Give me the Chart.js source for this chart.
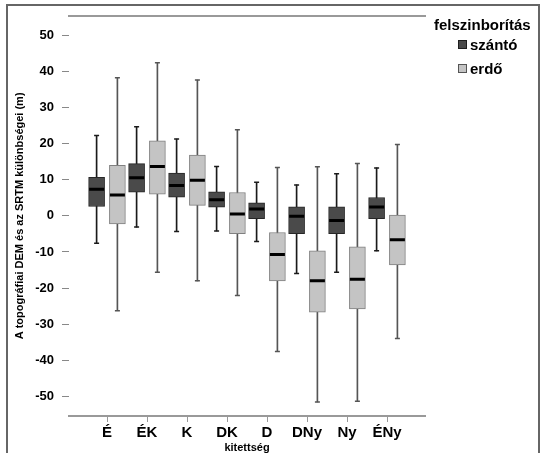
<!DOCTYPE html>
<html>
<head>
<meta charset="utf-8">
<script src="https://cdn.jsdelivr.net/npm/chart.js@4.4.1/dist/chart.umd.min.js"></script>
<style>
  html, body { margin: 0; padding: 0; background: #fff; }
  #wrap { position: relative; width: 545px; height: 453px; overflow: hidden; font-family: "Liberation Sans", Arial, sans-serif; }
  #frame { position: absolute; left: 6px; top: 4px; width: 530px; height: 470px; border: 2px solid #666; border-bottom: none; pointer-events: none; }
  #legend { position: absolute; left: 434px; top: 15px; font-weight: bold; color: #000; }
  #legend .title { font-size: 15px; line-height: 20px; }
  #legend .item { position: absolute; left: 24px; font-size: 15px; line-height: 18px; white-space: nowrap; }
  #legend .sw { display: inline-block; width: 7px; height: 7px; margin-right: 3px; vertical-align: 1px; }
</style>
</head>
<body>
<div id="wrap">
  <canvas id="chart" width="545" height="453"></canvas>
  <div id="frame"></div>
  <div id="legend">
    <div class="title">felszinborítás</div>
    <div class="item" style="top:21px"><span class="sw" style="background:#4a4a4a;border:1px solid #1e1e1e"></span>szántó</div>
    <div class="item" style="top:45px"><span class="sw" style="background:#c4c4c4;border:1px solid #555"></span>erdő</div>
  </div>
</div>
<script>
const categories = ['É', 'ÉK', 'K', 'DK', 'D', 'DNy', 'Ny', 'ÉNy'];
const yTicks = [-50, -40, -30, -20, -10, 0, 10, 20, 30, 40, 50];

// szántó (dark boxes)
const szantoMin    = [-7.6, -3.1, -4.3, -4.2, -7.1, -16.0, -15.6, -9.7];
const szantoQ1     = [2.6, 6.6, 5.2, 2.4, -0.8, -4.9, -4.9, -0.8];
const szantoMedian = [7.4, 10.6, 8.4, 4.5, 1.9, -0.1, -1.3, 2.5];
const szantoQ3     = [10.7, 14.5, 11.9, 6.7, 3.6, 2.5, 2.5, 5.1];
const szantoMax    = [22.3, 24.7, 21.3, 13.7, 9.3, 8.6, 11.7, 13.3];

// erdő (light boxes)
const erdoMin    = [-26.3, -15.6, -18.0, -22.1, -37.6, -51.6, -51.4, -34.0];
const erdoQ1     = [-2.2, 6.0, 2.9, -4.9, -18.0, -26.7, -25.8, -13.6];
const erdoMedian = [5.8, 13.7, 9.9, 0.5, -10.7, -18.0, -17.6, -6.6];
const erdoQ3     = [14.0, 20.8, 16.9, 6.5, -4.6, -9.7, -8.6, 0.2];
const erdoMax    = [38.3, 42.5, 37.7, 23.9, 13.4, 13.6, 14.5, 19.8];

const SHIFT = 0.26; // half distance between the two boxes of a category

function ranges(lo, hi, dx) {
  return categories.map((_, i) => ({ x: i + dx, y: [lo[i], hi[i]] }));
}
function points(vals, dx) {
  return categories.map((_, i) => ({ x: i + dx, y: vals[i] }));
}

function boxDatasets(name, mn, q1, med, q3, mx, dx, fill, edge, whisk) {
  return [
    { type: 'bar', label: name + ' whisker', data: ranges(mn, mx, dx), backgroundColor: whisk,
      barThickness: 1, maxBarThickness: 1, borderWidth: 0, grouped: false, order: 3 },
    { type: 'bar', label: name, data: ranges(q1, q3, dx), backgroundColor: fill, borderColor: edge,
      borderWidth: 1, borderSkipped: false, barThickness: 16, maxBarThickness: 16, grouped: false, order: 2 },
    { type: 'scatter', label: name + ' median', data: points(med, dx), pointStyle: 'line',
      pointRadius: 7.5, pointBorderWidth: 3, pointBorderColor: '#000', order: 1 },
    { type: 'scatter', label: name + ' caps', data: points(mn, dx).concat(points(mx, dx)), pointStyle: 'line',
      pointRadius: 2.5, pointBorderWidth: 1.5, pointBorderColor: whisk, order: 1 }
  ];
}

Chart.defaults.font.family = '"Liberation Sans", Arial, sans-serif';
Chart.defaults.color = '#000';

new Chart(document.getElementById('chart'), {
  type: 'bar',
  data: {
    datasets: [
      ...boxDatasets('szántó', szantoMin, szantoQ1, szantoMedian, szantoQ3, szantoMax, -SHIFT, '#4a4a4a', '#262626', '#1a1a1a'),
      ...boxDatasets('erdő', erdoMin, erdoQ1, erdoMedian, erdoQ3, erdoMax, SHIFT, '#c4c4c4', '#808080', '#555555')
    ]
  },
  options: {
    responsive: false,
    animation: false,
    events: [],
    layout: { padding: { top: 11, right: 120, bottom: 0, left: 0 } },
    plugins: { legend: { display: false }, tooltip: { enabled: false } },
    scales: {
      x: {
        type: 'linear',
        offset: false,
        min: -0.95,
        max: 7.95,
        afterBuildTicks: s => { s.ticks = categories.map((_, i) => ({ value: i })); },
        afterFit: s => { s.height = 37; },
        ticks: {
          callback: v => categories[v],
          autoSkip: false, maxRotation: 0, padding: 2,
          font: { size: 15, weight: 'bold' }, color: '#000'
        },
        grid: { offset: false, drawOnChartArea: false, tickLength: 6, color: '#999' },
        border: { color: '#999', width: 2 },
        title: { display: true, text: 'kitettség', font: { size: 11, weight: 'bold' }, padding: { top: 0, bottom: -2 } }
      },
      x2: {
        type: 'linear',
        position: 'top',
        offset: false,
        min: -0.95,
        max: 7.95,
        afterFit: s => { s.height = 0; },
        ticks: { display: false },
        grid: { display: false },
        border: { color: '#999', width: 2 }
      },
      y: {
        type: 'linear',
        min: -55.5,
        max: 55.5,
        afterBuildTicks: s => { s.ticks = yTicks.map(v => ({ value: v })); },
        afterFit: s => { s.width = 69; },
        ticks: { padding: 8, font: { size: 13, weight: 'bold' }, color: '#000' },
        grid: { drawOnChartArea: false, tickLength: 7, color: '#888' },
        border: { display: false },
        title: {
          display: true,
          text: 'A topográfiai DEM és az SRTM különbségei (m)',
          font: { size: 11, weight: 'bold' },
          padding: { top: 13, bottom: 0 }
        }
      }
    }
  }
});
</script>
</body>
</html>
